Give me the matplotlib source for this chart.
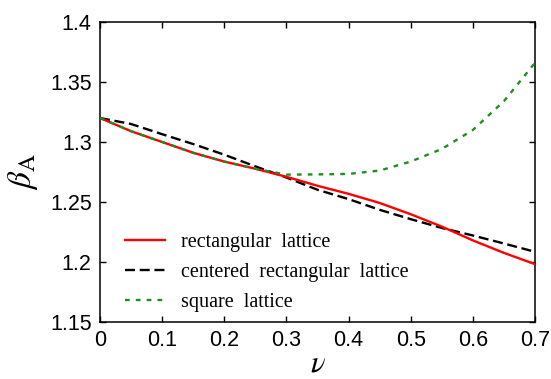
import matplotlib
matplotlib.use("Agg")
import matplotlib.pyplot as plt

plt.rcParams["mathtext.fontset"] = "stix"
plt.rcParams["lines.scale_dashes"] = False

# Poisson ratio values
nu = [0.00, 0.05, 0.10, 0.15, 0.20, 0.25, 0.30, 0.35,
      0.40, 0.45, 0.50, 0.55, 0.60, 0.65, 0.70]

# Abrikosov parameter beta_A for each lattice type
beta_rect = [1.3200, 1.3090, 1.3000, 1.2910, 1.2837, 1.2777, 1.2710, 1.2635,
             1.2568, 1.2492, 1.2398, 1.2295, 1.2180, 1.2076, 1.1982]
beta_centered = [1.3200, 1.3150, 1.3065, 1.2983, 1.2894, 1.2797, 1.2704, 1.2602,
                 1.2524, 1.2435, 1.2357, 1.2284, 1.2221, 1.2154, 1.2085]
beta_square = [1.3200, 1.3090, 1.3000, 1.2910, 1.2837, 1.2777, 1.2728, 1.2730,
               1.2734, 1.2762, 1.2837, 1.2942, 1.3100, 1.3340, 1.3660]

series_labels = ["rectangular  lattice",
                 "centered  rectangular  lattice",
                 "square  lattice"]

x_ticks = [0, 0.1, 0.2, 0.3, 0.4, 0.5, 0.6, 0.7]
x_tick_labels = ["0", "0.1", "0.2", "0.3", "0.4", "0.5", "0.6", "0.7"]
y_ticks = [1.15, 1.2, 1.25, 1.3, 1.35, 1.4]
y_tick_labels = ["1.15", "1.2", "1.25", "1.3", "1.35", "1.4"]

fig = plt.figure(figsize=(5.51, 3.79), dpi=100)
ax = fig.add_axes([100 / 551, 1 - 322 / 379, 435 / 551, 300 / 379])

ax.plot(nu, beta_rect, color="#ff0000", lw=1.7, label=series_labels[0], zorder=3)
ax.plot(nu, beta_centered, color="black", lw=1.7, dashes=(7.2, 3.4),
        label=series_labels[1], zorder=2)
ax.plot(nu, beta_square, color="#228b22", lw=1.7, dashes=(3.4, 4.4),
        label=series_labels[2], zorder=4)

ax.set_xlim(0, 0.7)
ax.set_ylim(1.15, 1.4)
ax.set_xticks(x_ticks)
ax.set_xticklabels(x_tick_labels)
ax.set_yticks(y_ticks)
ax.set_yticklabels(y_tick_labels)

for lab in ax.get_xticklabels() + ax.get_yticklabels():
    lab.set_fontfamily("Liberation Sans")
    lab.set_fontsize(15.5)

ax.tick_params(direction="in", length=4, width=1.0, top=True, right=True, pad=6)
for sp in ax.spines.values():
    sp.set_linewidth(1.1)

ax.set_xlabel(r"$\nu$", fontsize=22, labelpad=-2)
ax.set_ylabel(r"$\beta_{\mathrm{A}}$", fontsize=24, labelpad=7)

leg = ax.legend(loc="lower left", bbox_to_anchor=(0.057, 0.032), frameon=False,
                prop={"family": "Liberation Serif", "size": 14.5},
                handlelength=2.0, handletextpad=0.8, labelspacing=0.55,
                borderpad=0, borderaxespad=0)

fig.savefig("out.png", dpi=100)
